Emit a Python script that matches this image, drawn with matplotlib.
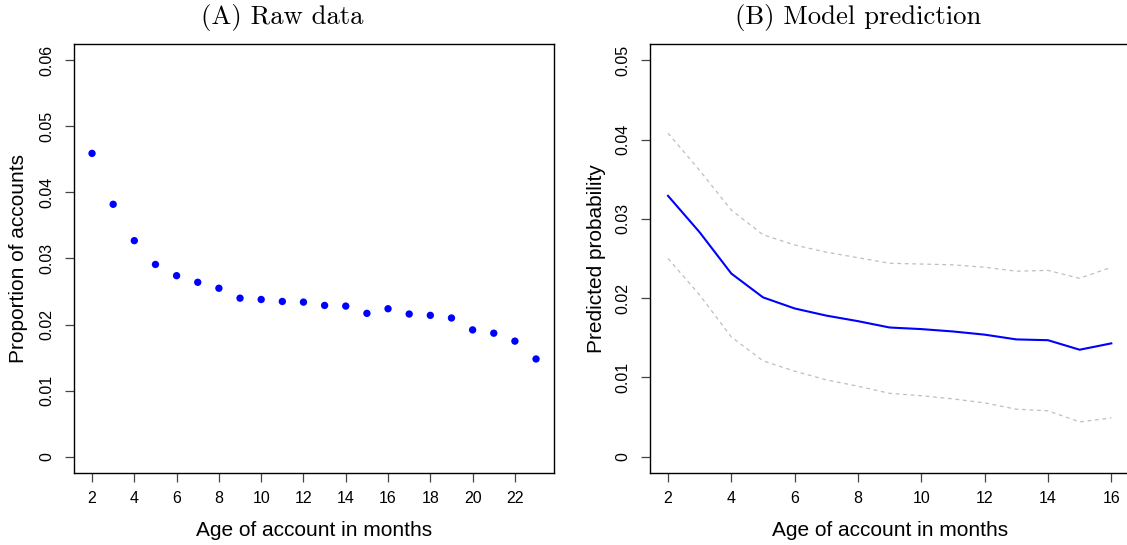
import numpy as np
import matplotlib.pyplot as plt

# raw proportions by account age
age_raw = [2, 3, 4, 5, 6, 7, 8, 9, 10, 11, 12, 13, 14, 15, 16, 17, 18, 19, 20, 21, 22, 23]
prop_raw = [0.0459, 0.0382, 0.0327, 0.0291, 0.0274, 0.0264, 0.0255, 0.0240, 0.0238,
            0.0235, 0.0234, 0.0229, 0.0228, 0.0217, 0.0224, 0.0216, 0.0214, 0.0210,
            0.0192, 0.0187, 0.0175, 0.0148]

# model prediction with band
age_pred = [2, 3, 4, 5, 6, 7, 8, 9, 10, 11, 12, 13, 14, 15, 16]
pred = [0.0329, 0.0283, 0.0231, 0.0201, 0.0187, 0.0178, 0.0171, 0.0163, 0.0161,
        0.0158, 0.0154, 0.0148, 0.0147, 0.0135, 0.0143]
pred_hi = [0.0408, 0.0361, 0.0311, 0.0280, 0.0267, 0.0258, 0.0251, 0.0244, 0.0243,
           0.0242, 0.0239, 0.0234, 0.0235, 0.0225, 0.0239]
pred_lo = [0.0250, 0.0204, 0.0151, 0.0121, 0.0108, 0.0097, 0.0089, 0.0080, 0.0077,
           0.0073, 0.0068, 0.0060, 0.0058, 0.0044, 0.0049]

yt_a = [0, 0.01, 0.02, 0.03, 0.04, 0.05, 0.06]
yt_b = [0, 0.01, 0.02, 0.03, 0.04, 0.05]
yl_a = ["0", "0.01", "0.02", "0.03", "0.04", "0.05", "0.06"]
yl_b = ["0", "0.01", "0.02", "0.03", "0.04", "0.05"]

SANS = "Liberation Sans"
TITLE_FONT = "cmr10"

fig = plt.figure(figsize=(11.27, 5.45), dpi=100)
# right panel runs a couple of pixels past the figure edge, as in the original
ax1 = fig.add_axes([0.0659, 0.1327, 0.4255, 0.786])
ax2 = fig.add_axes([0.5770, 0.1327, 0.4248, 0.786])


def r_style(ax, xlim, ylim, xticks, yticks, ylabels):
    # R base-graphics look: 4% padding, outward ticks, rotated y labels
    pad_x = (xlim[1] - xlim[0]) * 0.04
    pad_y = (ylim[1] - ylim[0]) * 0.04
    ax.set_xlim(xlim[0] - pad_x, xlim[1] + pad_x)
    ax.set_ylim(ylim[0] - pad_y, ylim[1] + pad_y)
    ax.set_xticks(xticks)
    ax.set_xticklabels([str(t) for t in xticks], fontfamily=SANS, fontsize=11.5)
    ax.set_yticks(yticks)
    ax.set_yticklabels(ylabels, fontfamily=SANS, fontsize=11.5, rotation=90, va="center")
    ax.tick_params(direction="out", length=6.3, width=0.9, color="#444444")
    ax.tick_params(axis="x", pad=7)
    ax.tick_params(axis="y", pad=8)
    for s in ax.spines.values():
        s.set_linewidth(1.0)
        s.set_color("black")


def labels(ax, xlab, ylab, title, ylab_x):
    ax.set_xlabel(xlab, fontfamily=SANS, fontsize=15, va="center")
    ax.xaxis.set_label_coords(0.5, -0.134)
    ax.set_ylabel(ylab, fontfamily=SANS, fontsize=15, va="center")
    ax.yaxis.set_label_coords(ylab_x, 0.5)
    # titles sit a little left of the plot centre in the original
    ax.text(0.434, 1.062, title, transform=ax.transAxes, ha="center", va="center",
            fontfamily=TITLE_FONT, fontsize=19.2)


ax1.scatter(age_raw, prop_raw, s=28, color="blue", edgecolors="none", zorder=3)
r_style(ax1, (2, 23), (0, 0.06), list(range(2, 23, 2)), yt_a, yl_a)
labels(ax1, "Age of account in months", "Proportion of accounts", "(A) Raw data", -0.116)

ax2.plot(age_pred, pred_hi, color="#BEBEBE", lw=0.9, ls=(0, (3, 3)))
ax2.plot(age_pred, pred_lo, color="#BEBEBE", lw=0.9, ls=(0, (3, 3)))
ax2.plot(age_pred, pred, color="blue", lw=1.5)
r_style(ax2, (2, 16), (0, 0.05), list(range(2, 17, 2)), yt_b, yl_b)
labels(ax2, "Age of account in months", "Predicted probability", "(B) Model prediction", -0.112)

fig.savefig("out.png", dpi=100)
